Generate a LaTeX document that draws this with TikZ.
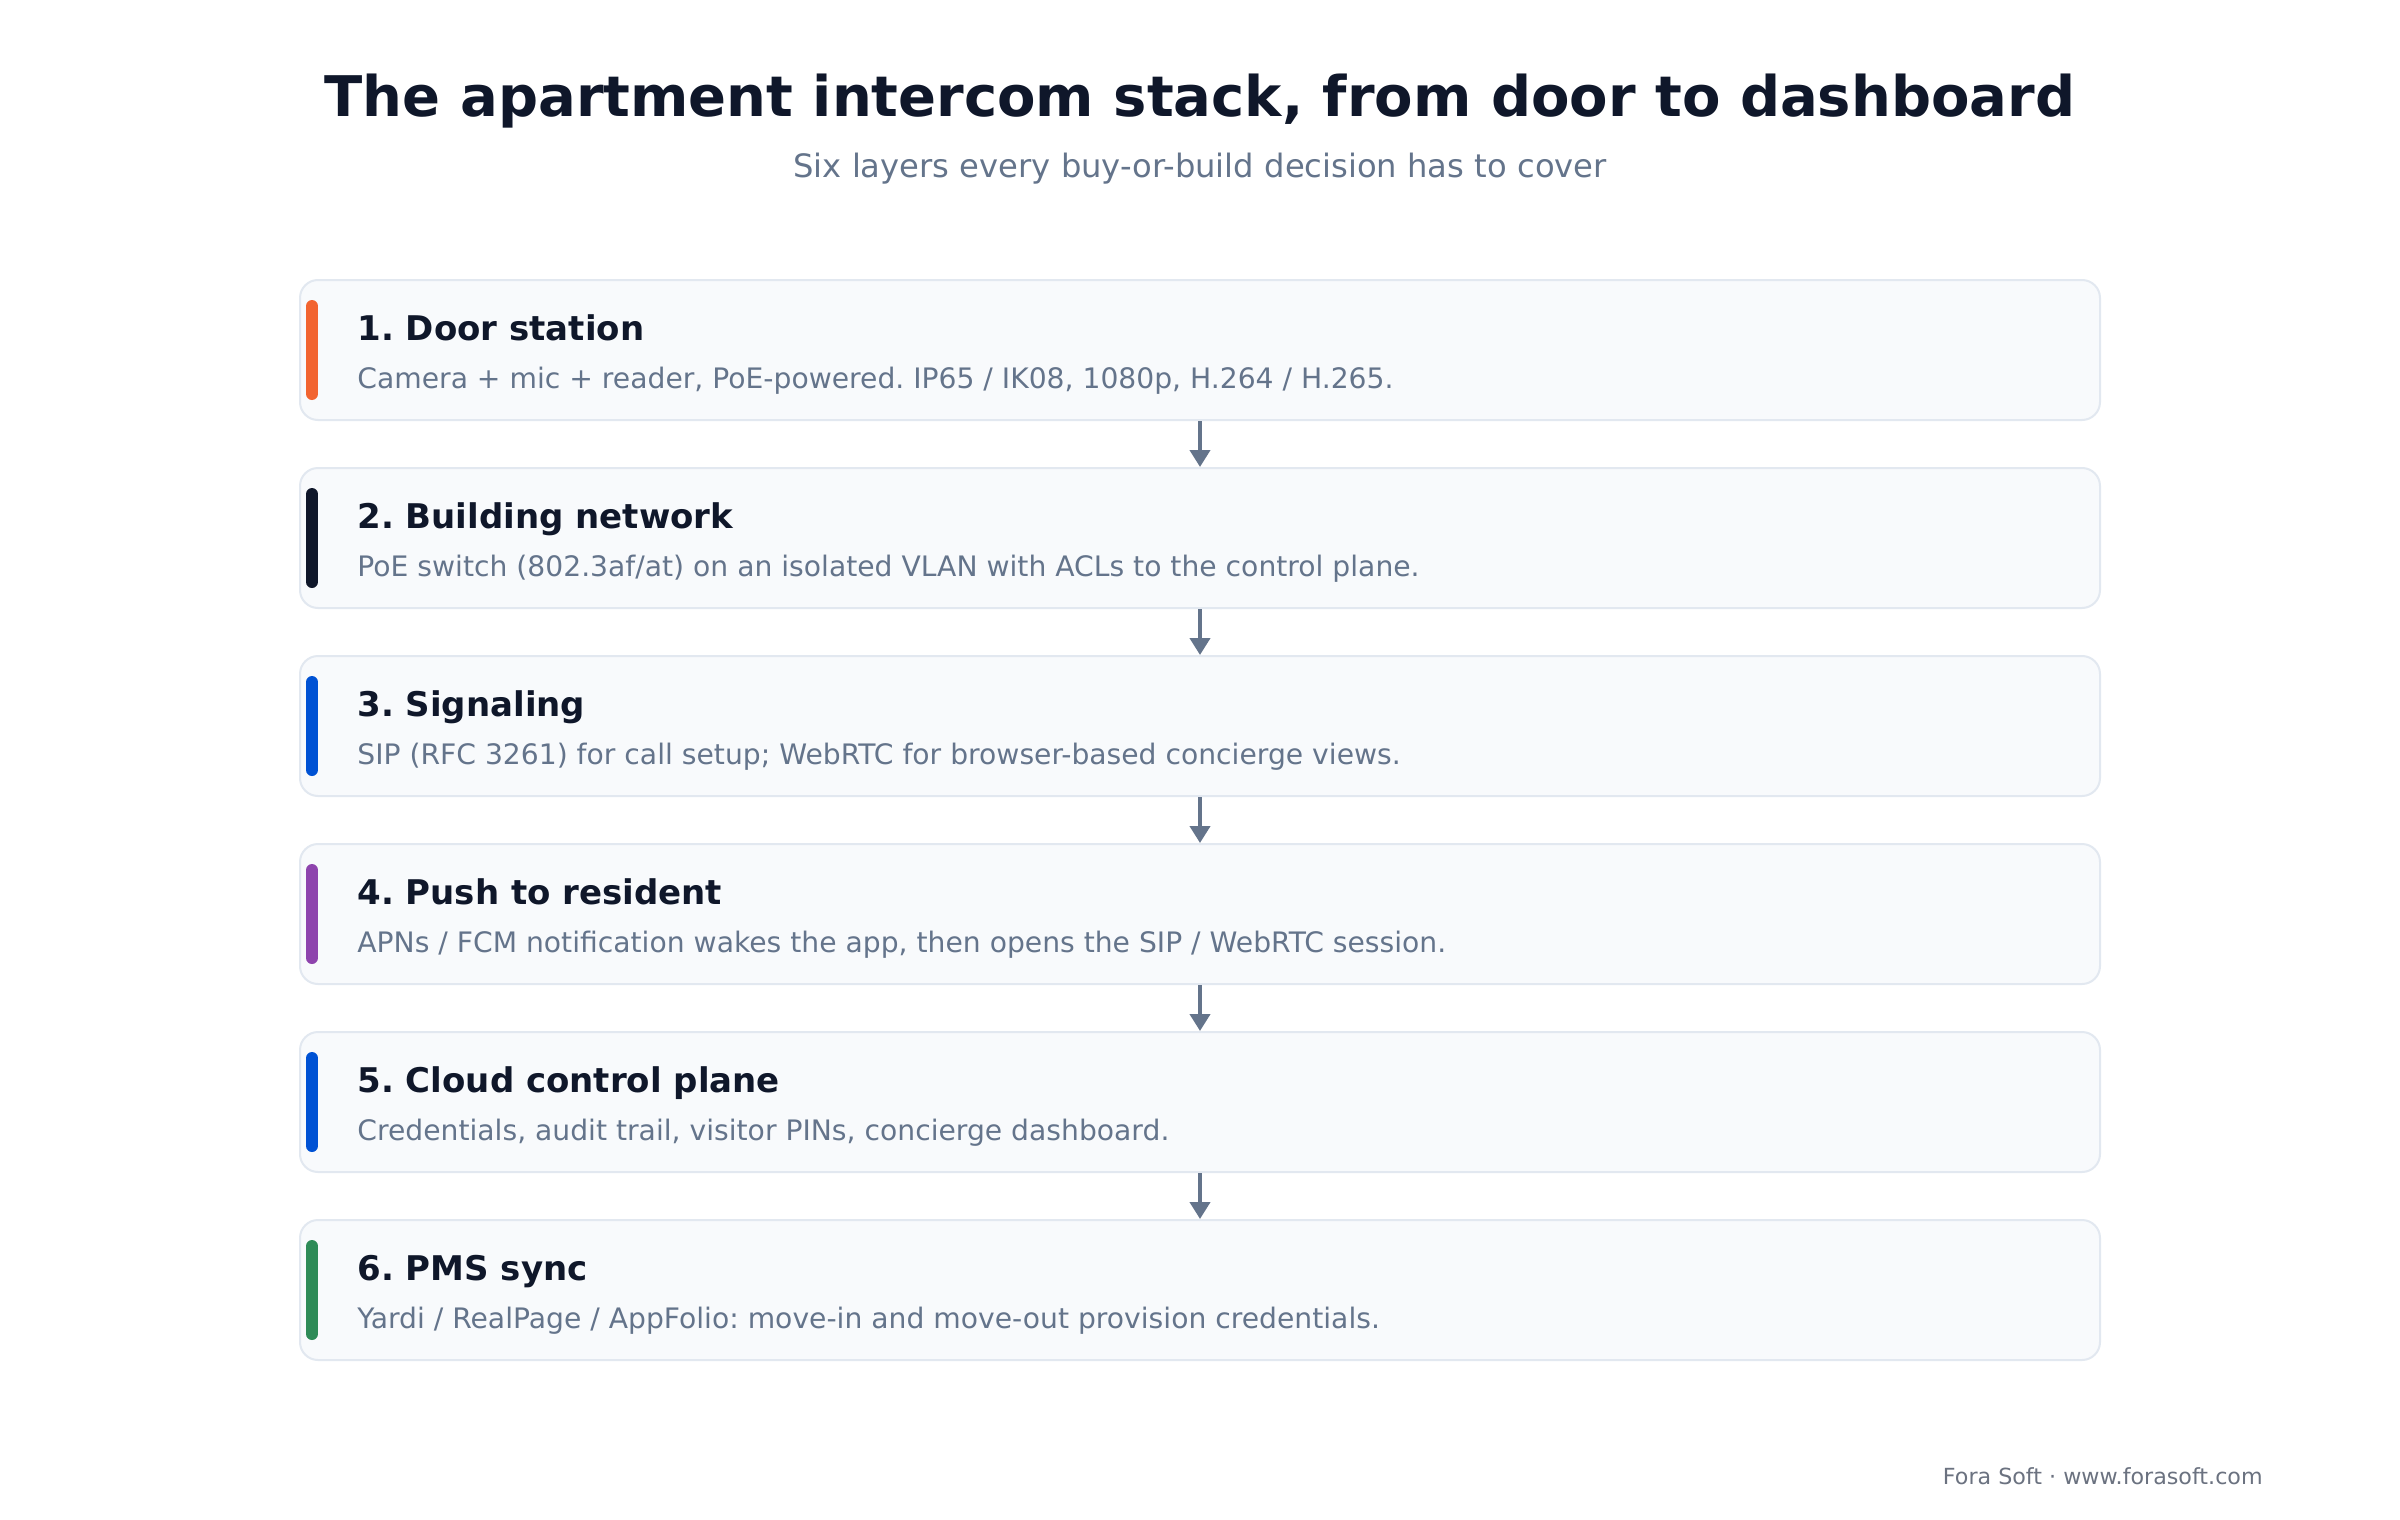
\documentclass[tikz,border=0pt]{standalone}
\usepackage{fontspec}
\setmainfont{DejaVu Sans}
\usetikzlibrary{arrows.meta}
\frenchspacing
\definecolor{ink}{HTML}{0F172A}
\definecolor{slate}{HTML}{64748B}
\definecolor{panel}{HTML}{F8FAFC}
\definecolor{rim}{HTML}{E2E8F0}
\definecolor{footgray}{HTML}{6B7280}
\definecolor{doororange}{HTML}{F26430}
\definecolor{sigblue}{HTML}{0052D4}
\definecolor{pushpurple}{HTML}{8E44AD}
\definecolor{pmsgreen}{HTML}{2E8B57}

\begin{document}
\begin{tikzpicture}[x=0.5pt,y=-0.5pt,
    layer/.style={draw=rim,
        fill=panel,
        line width=1pt,
        rounded corners=9pt,
        minimum width=900pt,
        minimum height=70pt,
        inner sep=0pt
    },
    ttl/.style={anchor=base west, inner sep=0pt, text=ink,
        font=\fontsize{17}{20}\selectfont\bfseries},
    dsc/.style={anchor=base west, inner sep=0pt, text=slate,
        font=\fontsize{14.1}{16}\selectfont},
    accent/.style={draw=#1, line width=6pt, line cap=round},
    flow/.style={draw=slate, line width=2pt,
        -{Triangle[width=10pt,length=8.5pt]}}
    ]

    \useasboundingbox[fill=white] (0,0) rectangle (2400,1520);

    % heading
    \node[anchor=base, inner sep=0pt, text=ink,
        font=\fontsize{28}{32}\selectfont\bfseries
    ] (title) at (1200,117){The apartment intercom stack, from door to dashboard};
    \node[anchor=base, inner sep=0pt, text=slate,
        font=\fontsize{16.1}{18}\selectfont
    ] (subtitle) at (1200,177){Six layers every buy-or-build decision has to cover};

    % layers
    \node[layer] (door) at (1200,350){};
    \draw[accent=doororange] (312,306) -- (312,394);
    \node[ttl] (doorttl) at (357,340){1. Door station};
    \node[dsc] (doordsc) at (357,388){Camera + mic + reader, PoE-powered. IP65 / IK08, 1080p, H.264 / H.265.};

    \node[layer] (network) at (1200,538){};
    \draw[accent=ink] (312,494) -- (312,582);
    \node[ttl] (networkttl) at (357,528){2. Building network};
    \node[dsc] (networkdsc) at (357,576){PoE switch (802.3af/at) on an isolated VLAN with ACLs to the control plane.};

    \node[layer] (signaling) at (1200,726){};
    \draw[accent=sigblue] (312,682) -- (312,770);
    \node[ttl] (signalingttl) at (357,716){3. Signaling};
    \node[dsc] (signalingdsc) at (357,764){SIP (RFC 3261) for call setup; WebRTC for browser-based concierge views.};

    \node[layer] (push) at (1200,914){};
    \draw[accent=pushpurple] (312,870) -- (312,958);
    \node[ttl] (pushttl) at (357,904){4. Push to resident};
    \node[dsc] (pushdsc) at (357,952){APNs / FCM notification wakes the app, then opens the SIP / WebRTC session.};

    \node[layer] (cloud) at (1200,1102){};
    \draw[accent=sigblue] (312,1058) -- (312,1146);
    \node[ttl] (cloudttl) at (357,1092){5. Cloud control plane};
    \node[dsc] (clouddsc) at (357,1140){Credentials, audit trail, visitor PINs, concierge dashboard.};

    \node[layer] (pms) at (1200,1290){};
    \draw[accent=pmsgreen] (312,1246) -- (312,1334);
    \node[ttl] (pmsttl) at (357,1280){6. PMS sync};
    \node[dsc] (pmsdsc) at (357,1328){Yardi / RealPage / AppFolio: move-in and move-out provision credentials.};

    % connectors
    \draw[flow] (door.south) -- (network.north);
    \draw[flow] (network.south) -- (signaling.north);
    \draw[flow] (signaling.south) -- (push.north);
    \draw[flow] (push.south) -- (cloud.north);
    \draw[flow] (cloud.south) -- (pms.north);

    \node[anchor=base east, inner sep=0pt, text=footgray,
        font=\fontsize{11.1}{13}\selectfont
    ] (footer) at (2263,1484){Fora Soft · www.forasoft.com};
    \end{tikzpicture}
\end{document}
